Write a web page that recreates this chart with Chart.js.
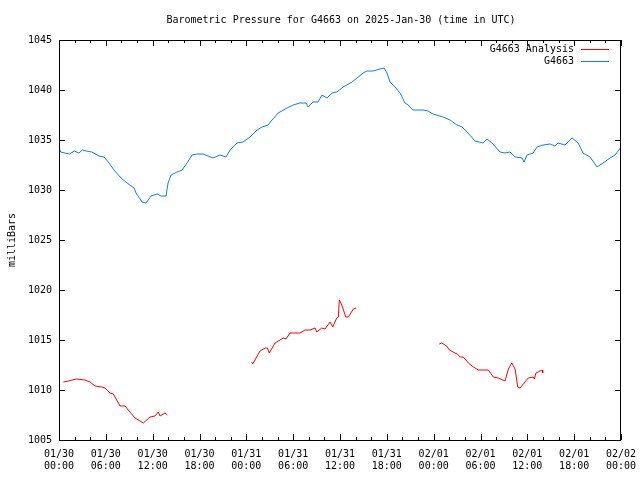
<!DOCTYPE html>
<html>
<head>
<meta charset="utf-8">
<title>Barometric Pressure for G4663</title>
<script src="https://cdn.jsdelivr.net/npm/chart.js@4/dist/chart.umd.min.js"></script>
<style>
  html, body { margin: 0; padding: 0; background: #fff; }
  #wrap { width: 640px; height: 480px; position: relative; }
</style>
</head>
<body>
<div id="wrap"><canvas id="chart" width="640" height="480"></canvas></div>
<script>
// --- datos: horas desde 2025-01-30 00:00 UTC ---
const tickLabels = [
    ['01/30', '00:00'], ['01/30', '06:00'], ['01/30', '12:00'], ['01/30', '18:00'],
    ['01/31', '00:00'], ['01/31', '06:00'], ['01/31', '12:00'], ['01/31', '18:00'],
    ['02/01', '00:00'], ['02/01', '06:00'], ['02/01', '12:00'], ['02/01', '18:00'],
    ['02/02', '00:00']
];
const yTicks = [1005, 1010, 1015, 1020, 1025, 1030, 1035, 1040, 1045];

const stationHours = [
    0.0, 0.23, 0.75, 1.35, 1.95, 2.55, 3.0, 3.47, 4.2, 5.13, 5.76, 6.41, 7.05, 7.95, 8.72, 9.62, 9.87,
    10.64, 11.15, 11.79, 12.56, 13.07, 13.71, 13.97, 14.36, 15.12, 15.77, 16.40, 17.04, 17.69,
    18.45, 19.73, 20.63, 21.39, 21.92, 22.80, 23.58, 24.47, 25.37, 26.01, 26.78, 27.29,
    28.07, 29.21, 29.99, 30.87, 31.65, 31.91, 32.54, 33.18, 33.69, 34.34, 34.98, 35.61,
    36.39, 37.55, 38.18, 38.96, 39.47, 40.23, 41.13, 41.64, 42.02, 42.41, 43.05, 43.70,
    44.33, 44.72, 45.36, 46.64, 47.28, 47.91, 49.20, 50.10, 50.99, 51.63, 52.40, 53.30,
    54.32, 54.84, 55.47, 56.51, 57.14, 57.78, 58.43, 59.33, 59.58, 59.96, 60.74, 61.25,
    62.01, 62.91, 63.54, 63.93, 64.83, 65.73, 66.50, 67.14, 68.03, 68.93, 69.69, 70.59,
    71.24, 72.0
];
const stationValues = [
    1034.2, 1033.8, 1033.7, 1033.6, 1033.9, 1033.7, 1034.0, 1033.9, 1033.8, 1033.4, 1033.3, 1032.7, 1032.0, 1031.2, 1030.7, 1030.2, 1029.7,
    1028.8, 1028.7, 1029.4, 1029.6, 1029.4, 1029.4, 1030.7, 1031.5, 1031.8, 1032.0, 1032.7, 1033.5, 1033.6,
    1033.6, 1033.2, 1033.5, 1033.3, 1034.0, 1034.7, 1034.8, 1035.3, 1036.0, 1036.3, 1036.5, 1037.0,
    1037.7, 1038.2, 1038.5, 1038.7, 1038.7, 1038.3, 1038.8, 1038.8, 1039.5, 1039.2, 1039.7, 1039.8,
    1040.3, 1040.8, 1041.2, 1041.7, 1041.9, 1041.9, 1042.1, 1042.2, 1041.7, 1040.8, 1040.3, 1039.7,
    1038.7, 1038.5, 1038.0, 1038.0, 1037.9, 1037.6, 1037.3, 1037.0, 1036.5, 1036.3, 1035.7, 1034.9,
    1034.7, 1035.1, 1034.7, 1033.8, 1033.7, 1033.8, 1033.3, 1033.2, 1032.8, 1033.5, 1033.7, 1034.3,
    1034.5, 1034.6, 1034.4, 1034.7, 1034.5, 1035.2, 1034.7, 1033.7, 1033.3, 1032.3, 1032.7, 1033.2,
    1033.5, 1034.3
];

// null = hueco entre tramos del análisis
const analysisHours = [
    0.56, 1.19, 2.27, 3.33, 3.98, 4.61, 5.48, 5.90, 6.54, 6.96, 7.82, 8.46, 9.09, 9.74, 10.80,
    11.66, 12.30, 12.72, 12.95, 13.58, 13.88,
    19.2,
    24.69, 24.81, 25.25, 25.76, 26.40, 26.69, 26.94, 27.68, 28.32, 28.74, 29.09, 29.60, 30.87,
    31.52, 32.16, 32.81, 33.02, 33.66, 34.08, 34.73, 35.07, 35.58, 35.79, 35.91, 36.23, 36.74,
    37.07, 37.71, 38.06,
    43.5,
    48.72, 49.04, 49.67, 50.01, 50.73, 51.03, 51.38, 51.80, 52.44, 53.09, 53.72, 55.01, 55.64,
    56.28, 57.14, 57.57, 58.01, 58.43, 58.77, 59.06, 59.70, 60.12, 60.77, 60.90, 61.11, 61.62,
    61.92, 61.97
];
const analysisValues = [
    1010.8, 1010.9, 1011.1, 1011.0, 1010.8, 1010.4, 1010.3, 1010.2, 1009.7, 1009.6, 1008.4, 1008.4, 1007.8, 1007.2, 1006.7,
    1007.3, 1007.4, 1007.8, 1007.4, 1007.7, 1007.5,
    null,
    1012.8, 1012.6, 1013.2, 1013.9, 1014.2, 1014.2, 1013.7, 1014.7, 1015.0, 1015.2, 1015.1, 1015.7, 1015.7,
    1016.0, 1016.0, 1016.2, 1015.8, 1016.2, 1016.1, 1016.8, 1016.3, 1017.2, 1017.3, 1019.0, 1018.5, 1017.3,
    1017.3, 1018.1, 1018.2,
    null,
    1014.6, 1014.7, 1014.4, 1014.0, 1013.7, 1013.6, 1013.3, 1013.3, 1012.7, 1012.3, 1012.0, 1012.0, 1011.3,
    1011.2, 1010.9, 1012.1, 1012.7, 1012.1, 1010.3, 1010.2, 1010.8, 1011.2, 1011.3, 1011.1, 1011.7, 1011.9,
    1012.0, 1011.7
];

const MONO = '"DejaVu Sans Mono", "Liberation Mono", monospace';
const toPoints = (xs, ys) => xs.map((h, i) => ({ x: h, y: ys[i] }));

// --- marco, ticks hacia dentro, título y leyenda estilo gnuplot ---
const gnuplotFrame = {
    id: 'gnuplotFrame',
    afterDraw(chart) {
        const { ctx, chartArea: a, scales: { x, y } } = chart;
        ctx.save();
        ctx.strokeStyle = '#000';
        ctx.lineWidth = 1;
        ctx.strokeRect(a.left + 0.5, a.top + 0.5, a.right - a.left - 1, a.bottom - a.top);

        ctx.beginPath();
        x.ticks.forEach(t => {
            const px = Math.round(x.getPixelForValue(t.value)) + 0.5;
            const len = t.value % 6 === 0 ? 6 : 3;
            ctx.moveTo(px, a.bottom); ctx.lineTo(px, a.bottom - len);
            ctx.moveTo(px, a.top); ctx.lineTo(px, a.top + len);
        });
        y.ticks.forEach(t => {
            const py = Math.round(y.getPixelForValue(t.value)) + 0.5;
            ctx.moveTo(a.left, py); ctx.lineTo(a.left + 6, py);
            ctx.moveTo(a.right, py); ctx.lineTo(a.right - 6, py);
        });
        ctx.stroke();

        // título
        ctx.fillStyle = '#000';
        ctx.font = '10px ' + MONO;
        ctx.textAlign = 'center';
        ctx.textBaseline = 'middle';
        ctx.fillText('Barometric Pressure for G4663 on 2025-Jan-30 (time in UTC)', 341, 20);

        // leyenda
        ctx.textAlign = 'right';
        chart.data.datasets.forEach((ds, i) => {
            const ly = 49 + i * 12;
            ctx.fillStyle = '#000';
            ctx.fillText(ds.label, 574, ly);
            ctx.strokeStyle = ds.borderColor;
            ctx.beginPath();
            ctx.moveTo(581, ly + 0.5);
            ctx.lineTo(609, ly + 0.5);
            ctx.stroke();
        });
        ctx.restore();
    }
};

new Chart(document.getElementById('chart'), {
    type: 'line',
    data: {
        datasets: [
            {
                label: 'G4663 Analysis',
                data: toPoints(analysisHours, analysisValues),
                borderColor: '#ff0000',
                borderWidth: 1,
                pointRadius: 0,
                spanGaps: false,
                tension: 0
            },
            {
                label: 'G4663',
                data: toPoints(stationHours, stationValues),
                borderColor: '#0a7ff5',
                borderWidth: 1,
                pointRadius: 0,
                tension: 0
            }
        ]
    },
    options: {
        responsive: false,
        animation: false,
        layout: { padding: { top: 40, right: 19, left: 0, bottom: 0 } },
        plugins: {
            legend: { display: false },
            title: { display: false },
            tooltip: { enabled: false }
        },
        scales: {
            x: {
                type: 'linear',
                min: 0,
                max: 72,
                grid: { display: false, drawTicks: false },
                border: { display: false },
                afterFit: (scale) => {
                    scale.height = 40;
                    scale.paddingLeft = 0;
                    scale.paddingRight = 0;
                },
                afterBuildTicks: (scale) => {
                    scale.ticks = [];
                    for (let h = 0; h <= 72; h += 2) scale.ticks.push({ value: h });
                },
                ticks: {
                    autoSkip: false,
                    maxRotation: 0,
                    padding: 8,
                    color: '#000',
                    font: { family: MONO, size: 10, lineHeight: 1.2 },
                    callback: (v) => (v % 6 === 0 ? tickLabels[v / 6] : '')
                }
            },
            y: {
                min: 1005,
                max: 1045,
                grid: { display: false, drawTicks: false },
                border: { display: false },
                afterFit: (scale) => { scale.width = 59; },
                afterBuildTicks: (scale) => {
                    scale.ticks = yTicks.map(v => ({ value: v }));
                },
                ticks: {
                    padding: 7,
                    color: '#000',
                    font: { family: MONO, size: 10 },
                    callback: (v) => String(v)
                },
                title: {
                    display: true,
                    text: 'milliBars',
                    color: '#000',
                    padding: { top: 6, bottom: 0 },
                    font: { family: MONO, size: 10 }
                }
            }
        }
    },
    plugins: [gnuplotFrame]
});
</script>
</body>
</html>
